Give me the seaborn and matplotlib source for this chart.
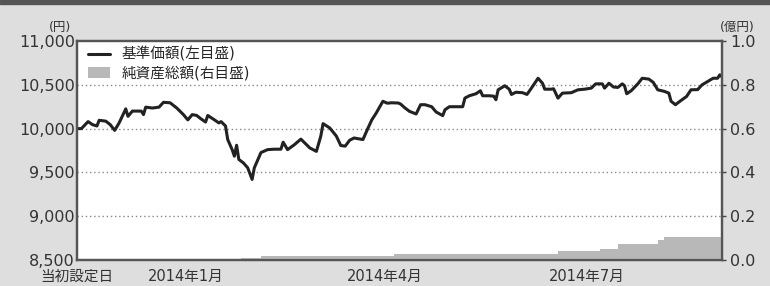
import pandas as pd
import numpy as np
import matplotlib.pyplot as plt
import seaborn as sns
from matplotlib.lines import Line2D
from matplotlib.patches import Patch, Rectangle

# fund launch date, days after launch for each reading
LAUNCH = pd.Timestamp('2013-11-13')

nav_days = [0, 2, 5, 7, 9, 10, 13, 15, 17, 19, 22, 23, 25, 27, 29, 30, 31, 34, 37, 39,
            42, 45, 48, 50, 52, 54, 56, 58, 59, 62, 64, 65, 67, 68, 70, 71, 72, 73, 75, 77,
            79, 80, 83, 86, 89, 92, 93, 95, 98, 101, 103, 105, 108, 110, 111, 114, 117, 119, 121, 123,
            125, 129, 131, 133, 135, 138, 140, 142, 145, 146, 148, 150, 153, 155, 157, 160, 162, 165, 166, 168,
            171, 174, 175, 177, 180, 182, 183, 186, 188, 189, 190, 193, 195, 196, 198, 201, 203, 205, 208, 210,
            211, 214, 215, 217, 219, 223, 226, 229, 232, 234, 237, 238, 240, 242, 244, 246, 247, 248, 250, 253,
            255, 258, 260, 262, 265, 267, 268, 270, 272, 275, 277, 280, 282, 287, 289, 290, 291]
nav_values = [10000, 10000, 10080, 10045, 10030, 10095, 10085, 10045, 9980, 10065, 10225, 10140, 10200, 10200, 10200, 10160, 10245, 10235, 10245, 10300,
              10295, 10235, 10160, 10100, 10160, 10150, 10110, 10075, 10150, 10100, 10065, 10080, 10030, 9875, 9760, 9685, 9810, 9648, 9610, 9553,
              9420, 9553, 9727, 9760, 9765, 9765, 9845, 9760, 9815, 9880, 9830, 9780, 9740, 9915, 10057, 10008, 9915, 9807, 9800, 9867,
              9893, 9875, 9990, 10100, 10178, 10312, 10290, 10295, 10292, 10280, 10235, 10197, 10167, 10273, 10273, 10250, 10190, 10148, 10215, 10250,
              10250, 10250, 10348, 10375, 10398, 10432, 10375, 10375, 10370, 10330, 10443, 10489, 10450, 10390, 10415, 10410, 10390, 10462, 10575, 10518,
              10450, 10450, 10455, 10348, 10405, 10410, 10443, 10450, 10462, 10511, 10511, 10462, 10518, 10475, 10470, 10511, 10490, 10398, 10432, 10511,
              10575, 10565, 10527, 10443, 10425, 10405, 10312, 10273, 10312, 10367, 10443, 10445, 10500, 10575, 10575, 10614, 10590]

# net assets (100 million yen), step series
asset_days = [0, 74, 83, 143, 217, 236, 244, 262, 265, 291]
asset_values = [0.0, 0.008, 0.018, 0.027, 0.04, 0.05, 0.074, 0.093, 0.107, 0.107]

tick_dates = ['2013-11-13', '2014-01-01', '2014-04-01', '2014-07-01']
tick_labels = ['当初設定日', '2014年1月', '2014年4月', '2014年7月']

nav = pd.DataFrame({'date': LAUNCH + pd.to_timedelta(nav_days, unit='D'), 'nav': nav_values})
assets = pd.DataFrame({'date': LAUNCH + pd.to_timedelta(asset_days, unit='D'), 'assets': asset_values})

sns.set_theme(style='white')
plt.rcParams['font.family'] = ['DejaVu Sans', 'Noto Sans CJK JP']

AREA = '#b8b8b8'
TXT = '#333333'

fig = plt.figure(figsize=(7.7, 2.86), dpi=100)
fig.patch.set_facecolor('#dedede')
fig.patches.append(Rectangle((0, 0.985), 1, 0.015, transform=fig.transFigure, color='#555555', zorder=0))

ax = fig.add_axes([0.1, 0.0909, 0.8377, 0.7657])
ax.set_facecolor('white')
ax2 = ax.twinx()

ax2.fill_between(assets['date'], assets['assets'], step='post', color=AREA, lw=0)
sns.lineplot(data=nav, x='date', y='nav', ax=ax, color='#222222', lw=2.2)

ax.set_xlim(nav['date'].iloc[0], nav['date'].iloc[-1])
ax.set_ylim(8500, 11000)
ax2.set_ylim(0, 1.0)

ax.set_yticks([8500, 9000, 9500, 10000, 10500, 11000])
ax.set_yticklabels(['8,500', '9,000', '9,500', '10,000', '10,500', '11,000'])
ax2.set_yticks([0, 0.2, 0.4, 0.6, 0.8, 1.0])
ax2.set_yticklabels(['0.0', '0.2', '0.4', '0.6', '0.8', '1.0'])
ax.set_xticks(pd.to_datetime(tick_dates))
ax.set_xticklabels(tick_labels)

for y in [9000, 9500, 10000, 10500]:
    ax.axhline(y, color='#8a8a8a', lw=1, ls=(0, (1, 2)), zorder=0)

ax.set_xlabel('')
ax.set_ylabel('')
ax.tick_params(axis='y', length=0, pad=1.5, labelsize=11.5, labelcolor=TXT)
ax.tick_params(axis='x', direction='in', length=4, width=1, color='#444444', pad=6.5,
               labelsize=10.5, labelcolor=TXT)
ax2.tick_params(axis='y', direction='out', length=3, width=1, color='#444444', pad=3,
                labelsize=11.5, labelcolor=TXT)

for a in (ax, ax2):
    for s in a.spines.values():
        s.set_color('#555555')
        s.set_linewidth(1.6)

fig.text(0.078, 0.893, '(円)', fontsize=9, color=TXT, ha='center')
fig.text(0.958, 0.893, '(億円)', fontsize=9, color=TXT, ha='center')

handles = [Line2D([], [], color='#222222', lw=2.2),
           Patch(facecolor=AREA, edgecolor='none')]
ax2.legend(handles, ['基準価額(左目盛)', '純資産総額(右目盛)'], loc='upper left',
           frameon=False, fontsize=10.5, handlelength=1.5, handletextpad=0.8,
           borderaxespad=0, borderpad=0.4, labelspacing=0.25,
           bbox_to_anchor=(0.008, 1.0))

fig.savefig('out.png', dpi=100, facecolor=fig.get_facecolor())
